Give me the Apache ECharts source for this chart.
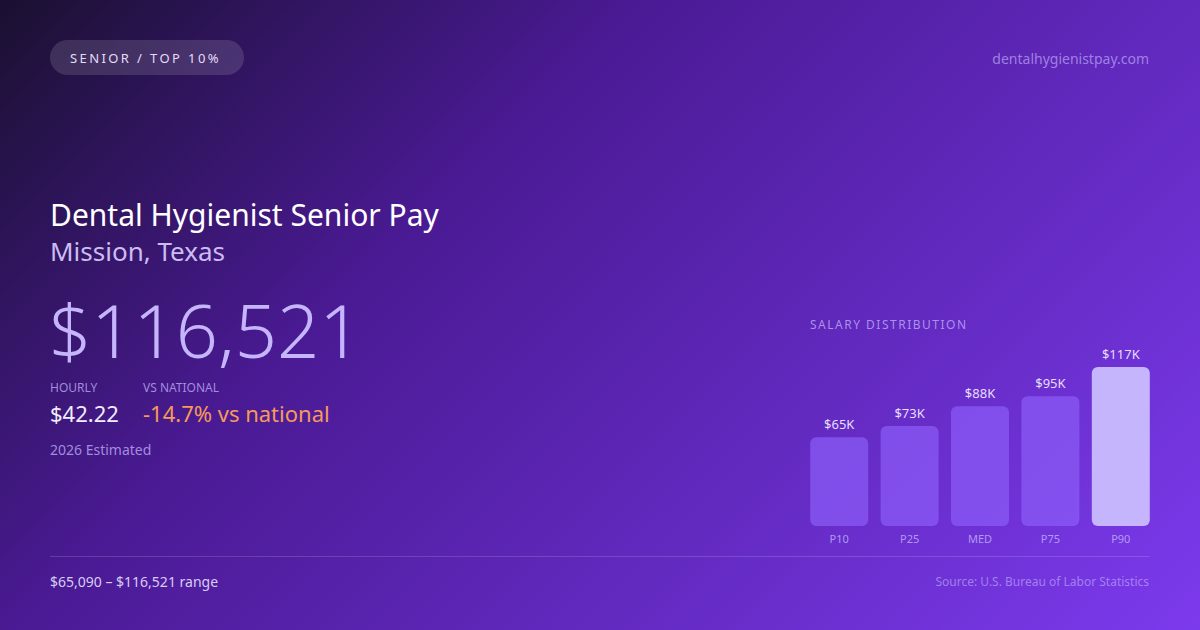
<!DOCTYPE html>
<html>
<head>
<meta charset="utf-8">
<script src="https://cdn.jsdelivr.net/npm/echarts@6/dist/echarts.min.js"></script>
<style>
html,body{margin:0;padding:0;width:1200px;height:630px;overflow:hidden;}
#wrap{position:relative;width:1200px;height:630px;background:linear-gradient(135deg,#1a1030 0%,#4a1a94 35%,#7c3aed 100%);}
#c{position:absolute;left:0;top:0;width:1200px;height:630px;}
.ov{position:absolute;z-index:5;font-family:"Noto Sans",sans-serif;height:20px;line-height:20px;white-space:nowrap;}
</style>
</head>
<body>
<div id="wrap">
<div id="c"></div>
<div class="ov" style="left:70px;top:48px;font-size:13px;letter-spacing:2.4px;color:#e4dcf7;">SENIOR / TOP 10%</div>
<div class="ov" style="left:810px;top:315px;font-size:12px;letter-spacing:1.5px;color:rgba(196,181,253,0.75);">SALARY DISTRIBUTION</div>
</div>
<script>
const categories = ['P10', 'P25', 'MED', 'P75', 'P90'];
const salaries = [65090, 73200, 87818, 95100, 116521];
const barLabels = ['$65K', '$73K', '$88K', '$95K', '$117K'];

const FONT = '"Noto Sans", sans-serif';
const chart = echarts.init(document.getElementById('c'), null, {renderer: 'svg', width: 1200, height: 630});

function txt(x, y, text, size, color, opts) {
  opts = opts || {};
  return {
    type: 'text', x: x, y: y, silent: true,
    style: {
      text: text, fontSize: size, fill: color, fontFamily: FONT,
      textAlign: opts.align || 'left', textVerticalAlign: 'middle',
      fontWeight: opts.weight || 'normal'
    }
  };
}

chart.setOption({
  backgroundColor: 'transparent',
  animation: false,
  grid: {left: 804, width: 352, top: 367, bottom: 104},
  xAxis: {
    type: 'category', data: categories,
    axisLine: {show: false}, axisTick: {show: false},
    axisLabel: {color: 'rgba(196,181,253,0.8)', fontSize: 11, fontFamily: FONT, margin: 7}
  },
  yAxis: {type: 'value', min: 0, max: 116521, show: false, splitLine: {show: false}},
  series: [{
    type: 'bar', barWidth: 58,
    data: salaries.map((v, i) => ({
      value: v,
      itemStyle: {color: i === salaries.length - 1 ? '#c4b5fd' : 'rgba(139,92,246,0.72)', borderRadius: 6},
      label: {formatter: barLabels[i]}
    })),
    label: {show: true, position: 'top', distance: 7, color: '#e6deff', fontSize: 13, fontFamily: FONT}
  }],
  graphic: [
    {type: 'rect', shape: {x: 50, y: 40, width: 194, height: 35, r: 17.5}, style: {fill: 'rgba(255,255,255,0.13)'}, silent: true},
    txt(1149, 58, 'dentalhygienistpay.com', 14, 'rgba(196,181,253,0.65)', {align: 'right'}),
    txt(50, 214, 'Dental Hygienist Senior Pay', 30, '#ffffff'),
    txt(50, 251, 'Mission, Texas', 26, '#cbbcf2'),
    txt(49, 329, '$116,521', 74, '#c4b5fd', {weight: 300}),
    txt(50, 387, 'HOURLY', 12, 'rgba(196,181,253,0.75)'),
    txt(143, 387, 'VS NATIONAL', 12, 'rgba(196,181,253,0.75)'),
    txt(50, 413, '$42.22', 22, '#f1ecff'),
    txt(143, 413, '-14.7% vs national', 22, '#f59a5b'),
    txt(50, 449, '2026 Estimated', 14, 'rgba(196,181,253,0.75)'),
    {type: 'line', shape: {x1: 50, y1: 556.5, x2: 1150, y2: 556.5}, style: {stroke: 'rgba(255,255,255,0.15)', lineWidth: 1}, silent: true},
    txt(50, 581, '$65,090 \u2013 $116,521 range', 14, '#d8ccf5'),
    txt(1149, 581, 'Source: U.S. Bureau of Labor Statistics', 12, 'rgba(196,181,253,0.6)', {align: 'right'})
  ]
});
</script>
</body>
</html>
